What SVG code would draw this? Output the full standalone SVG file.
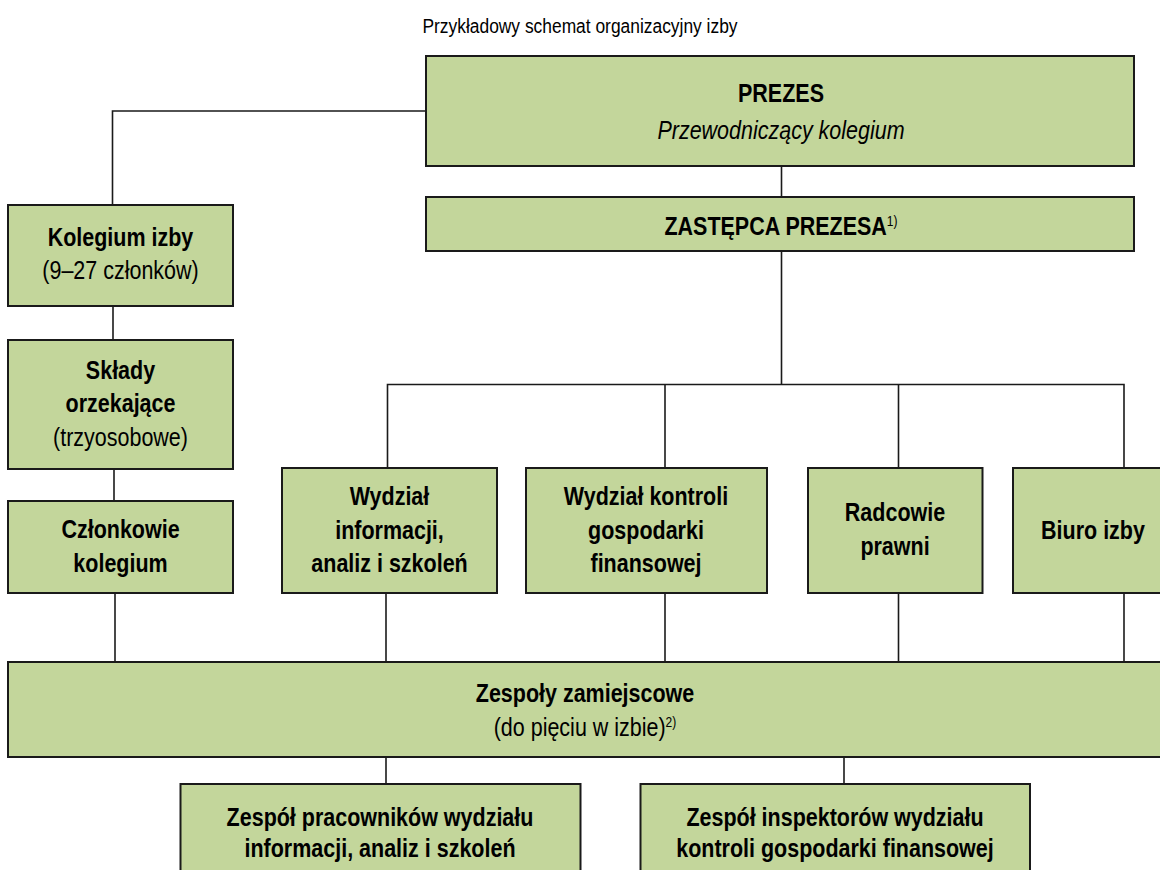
<svg xmlns="http://www.w3.org/2000/svg" width="1160" height="870" viewBox="0 0 1160 870">
<style>
.box{fill:#c3d69b;stroke:#1a1a1a;stroke-width:2}
.t{font-family:"Liberation Sans",Arial,sans-serif;font-size:25px;text-anchor:middle;fill:#000}
.b{font-weight:bold}
.i{font-style:italic}
.sup{font-size:14px;font-weight:normal}
.title{font-family:"Liberation Sans",Arial,sans-serif;font-size:20px;text-anchor:middle;fill:#000}
#connectors path{stroke:#1a1a1a;stroke-width:1.6;fill:none}
</style>
<rect width="1160" height="870" fill="#ffffff"/>
<text class="title" transform="translate(580 33) scale(0.87 1)">Przykładowy schemat organizacyjny izby</text>
<g id="connectors">
<path d="M426 111H112.5V205"/>
<path d="M113 306V340"/>
<path d="M114 469V501"/>
<path d="M115 593V662"/>
<path d="M781.5 166V197"/>
<path d="M781.5 251V384.5"/>
<path d="M387.5 468V384.5H1124V468"/>
<path d="M665 384.5V468"/>
<path d="M898.5 384.5V468"/>
<path d="M386 593V662"/>
<path d="M665 593V662"/>
<path d="M898.5 593V662"/>
<path d="M1124 593V662"/>
<path d="M386 757V784"/>
<path d="M844 757V784"/>
</g>
<g id="prezes">
<rect class="box" x="426" y="56" width="708" height="110"/>
<text class="t b" transform="translate(781 102) scale(0.86 1)">PREZES</text>
<text class="t i" transform="translate(781 139) scale(0.86 1)">Przewodniczący kolegium</text>
</g>
<g id="zastepca">
<rect class="box" x="426" y="197" width="708" height="54"/>
<text class="t b" transform="translate(781 235) scale(0.86 1)">ZASTĘPCA PREZESA<tspan class="sup" dy="-9">1)</tspan></text>
</g>
<g id="kolegium">
<rect class="box" x="8" y="205" width="225" height="101"/>
<text class="t b" transform="translate(120.5 246) scale(0.86 1)">Kolegium izby</text>
<text class="t" transform="translate(120.5 279) scale(0.86 1)">(9–27 członków)</text>
</g>
<g id="sklady">
<rect class="box" x="8" y="340" width="225" height="129"/>
<text class="t b" transform="translate(120.5 379) scale(0.86 1)">Składy</text>
<text class="t b" transform="translate(120.5 412) scale(0.86 1)">orzekające</text>
<text class="t" transform="translate(120.5 446) scale(0.86 1)">(trzyosobowe)</text>
</g>
<g id="czlonkowie">
<rect class="box" x="8" y="501" width="225" height="92"/>
<text class="t b" transform="translate(120.5 538) scale(0.86 1)">Członkowie</text>
<text class="t b" transform="translate(120.5 572) scale(0.86 1)">kolegium</text>
</g>
<g id="wydzial-informacji">
<rect class="box" x="282" y="468" width="215" height="125"/>
<text class="t b" transform="translate(389.5 505) scale(0.86 1)">Wydział</text>
<text class="t b" transform="translate(389.5 539) scale(0.86 1)">informacji,</text>
<text class="t b" transform="translate(389.5 572) scale(0.86 1)">analiz i szkoleń</text>
</g>
<g id="wydzial-kontroli">
<rect class="box" x="526" y="468" width="241" height="125"/>
<text class="t b" transform="translate(646 505) scale(0.86 1)">Wydział kontroli</text>
<text class="t b" transform="translate(646 539) scale(0.86 1)">gospodarki</text>
<text class="t b" transform="translate(646 572) scale(0.86 1)">finansowej</text>
</g>
<g id="radcowie">
<rect class="box" x="808" y="468" width="174.5" height="125"/>
<text class="t b" transform="translate(895 521) scale(0.86 1)">Radcowie</text>
<text class="t b" transform="translate(895 555) scale(0.86 1)">prawni</text>
</g>
<g id="biuro">
<rect class="box" x="1013" y="468" width="170" height="125"/>
<text class="t b" transform="translate(1093 539) scale(0.86 1)">Biuro izby</text>
</g>
<g id="zespoly">
<rect class="box" x="8" y="662" width="1175" height="95"/>
<text class="t b" transform="translate(585 702) scale(0.86 1)">Zespoły zamiejscowe</text>
<text class="t" transform="translate(585 736) scale(0.86 1)">(do pięciu w izbie)<tspan class="sup" dy="-9">2)</tspan></text>
</g>
<g id="zespol-pracownikow">
<rect class="box" x="180.5" y="784" width="400" height="100"/>
<text class="t b" transform="translate(380 826) scale(0.86 1)">Zespół pracowników wydziału</text>
<text class="t b" transform="translate(380 857) scale(0.86 1)">informacji, analiz i szkoleń</text>
</g>
<g id="zespol-inspektorow">
<rect class="box" x="640.5" y="784" width="389.5" height="100"/>
<text class="t b" transform="translate(835 826) scale(0.86 1)">Zespół inspektorów wydziału</text>
<text class="t b" transform="translate(835 857) scale(0.86 1)">kontroli gospodarki finansowej</text>
</g>
</svg>
